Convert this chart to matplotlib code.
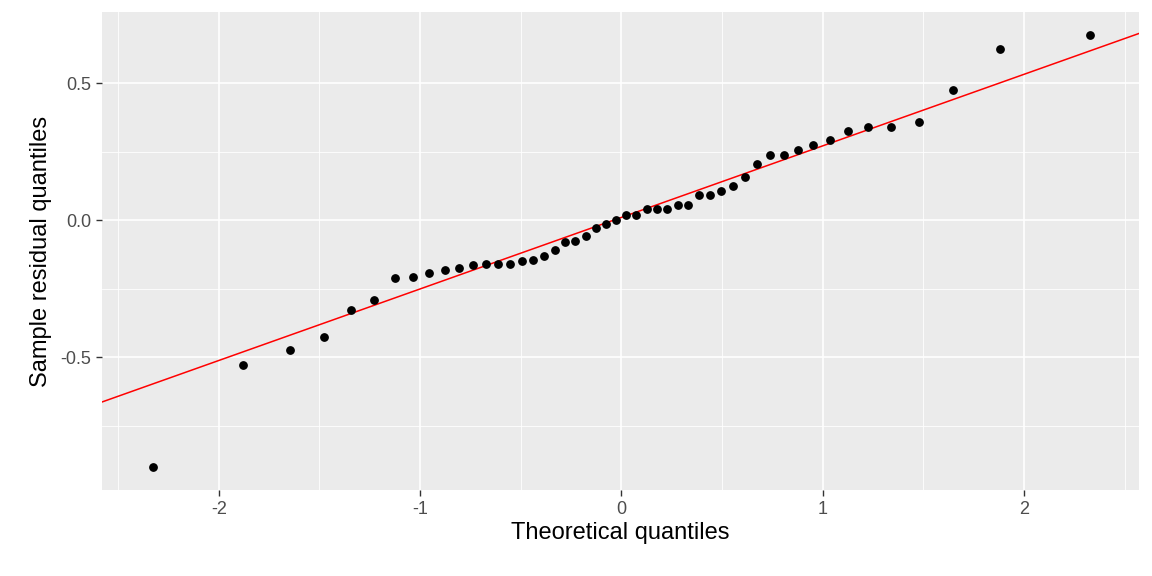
import matplotlib
matplotlib.use("Agg")
import matplotlib.pyplot as plt
import numpy as np
plt.rcParams['font.family'] = ['Liberation Sans', 'DejaVu Sans']

theo = [-2.326,-1.881,-1.645,-1.476,-1.341,-1.227,-1.126,-1.036,-0.954,-0.878,
        -0.806,-0.739,-0.674,-0.613,-0.553,-0.496,-0.440,-0.385,-0.332,-0.279,
        -0.228,-0.176,-0.126,-0.075,-0.025,0.025,0.075,0.126,0.176,0.228,
        0.279,0.332,0.385,0.440,0.496,0.553,0.613,0.674,0.739,0.806,
        0.878,0.954,1.036,1.126,1.227,1.341,1.476,1.645,1.881,2.326]
resid = [-0.90,-0.53,-0.475,-0.427,-0.328,-0.292,-0.212,-0.208,-0.193,-0.182,
         -0.175,-0.164,-0.161,-0.161,-0.161,-0.150,-0.146,-0.131,-0.109,-0.080,
         -0.077,-0.058,-0.029,-0.015,0.0,0.018,0.018,0.04,0.04,0.04,
         0.055,0.055,0.091,0.091,0.106,0.124,0.157,0.204,0.237,0.237,
         0.255,0.274,0.292,0.325,0.339,0.339,0.358,0.474,0.624,0.675]
intercept, slope = 0.01, 0.261

fig = plt.figure(figsize=(11.52, 5.76), dpi=100)
ax = fig.add_axes([0.0885, 0.149, 0.9, 0.83])
ax.set_facecolor("#EBEBEB")
xlim = (-2.58, 2.57); ylim = (-0.985, 0.759)
for v in [-2.5,-1.5,-0.5,0.5,1.5,2.5]:
    ax.axvline(v, color="white", lw=0.6, zorder=0)
for v in [-0.75,-0.25,0.25]:
    ax.axhline(v, color="white", lw=0.6, zorder=0)
for v in [-2,-1,0,1,2]:
    ax.axvline(v, color="white", lw=1.2, zorder=0)
for v in [-0.5,0,0.5]:
    ax.axhline(v, color="white", lw=1.2, zorder=0)
xs = np.array(xlim)
ax.plot(xs, intercept + slope*xs, color="red", lw=1.1, zorder=2)
ax.scatter(theo, resid, s=28, color="black", zorder=3)
ax.set_xlim(xlim); ax.set_ylim(ylim)
ax.set_xticks([-2,-1,0,1,2]); ax.set_xticklabels(["-2","-1","0","1","2"])
ax.set_yticks([-0.5,0,0.5]); ax.set_yticklabels(["-0.5","0.0","0.5"])
for s in ax.spines.values(): s.set_visible(False)
ax.tick_params(colors="#4D4D4D", labelsize=13, length=4, width=1)
ax.tick_params(axis="both", color="#333333")
ax.set_xlabel("Theoretical quantiles", fontsize=17, color="black", labelpad=3)
ax.set_ylabel("Sample residual quantiles", fontsize=17, color="black", labelpad=6)
fig.savefig("out.png", dpi=100)
